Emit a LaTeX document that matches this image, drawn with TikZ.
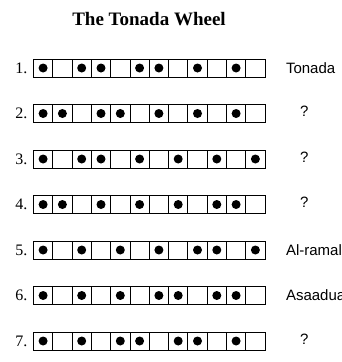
\documentclass[tikz,border=0pt]{standalone}
\usepackage{fontspec}
\setmainfont{Liberation Serif}
\setsansfont{Liberation Sans}
\usetikzlibrary{positioning}

\begin{document}
\begin{tikzpicture}[
  x=1pt, y=-1pt,
  cell/.style={draw, line width=0.9pt, minimum width=19.3pt, minimum height=18pt, inner sep=0pt, anchor=west},
  bead/.style={circle, fill=black, minimum size=9pt, inner sep=0pt},
  num/.style={font=\fontsize{16}{16}\selectfont, anchor=east},
  tag/.style={font=\sffamily\fontsize{15}{15}\selectfont},
  ask/.style={tag, yshift=2pt},
]
\useasboundingbox (0,0) rectangle (342,362);
\node[font=\bfseries\fontsize{19}{19}\selectfont] (title) at (149,19) {The Tonada Wheel};
% --- the seven rhythms, 12 pulses each ---
\foreach \r/\pat in {1/{1,0,1,1,0,1,1,0,1,0,1,0},
                     2/{1,1,0,1,1,0,1,0,1,0,1,0},
                     3/{1,0,1,1,0,1,0,1,0,1,0,1},
                     4/{1,1,0,1,0,1,0,1,0,1,1,0},
                     5/{1,0,1,0,1,0,1,0,1,1,0,1},
                     6/{1,0,1,0,1,0,1,1,0,1,1,0},
                     7/{1,0,1,0,1,1,0,1,1,0,1,0}}{
  \node[num] (n\r) at (31,{68+(\r-1)*45.5}) {\r.};
  \foreach \b [count=\c] in \pat {
    \node[cell] (c\r-\c) at ({33+(\c-1)*19.3},{68+(\r-1)*45.5}) {};
    \ifnum\b=1 \node[bead] (b\r-\c) at (c\r-\c) {}; \fi
  }
}
% --- names ---
\node[tag, right=17pt of c1-12] (t1) {Tonada};
\node[ask, right=31pt of c2-12] (t2) {?};
\node[ask, right=31pt of c3-12] (t3) {?};
\node[ask, right=31pt of c4-12] (t4) {?};
\node[tag, right=17pt of c5-12] (t5) {Al-ramal};
\node[tag, right=17pt of c6-12] (t6) {Asaadua};
\node[ask, right=31pt of c7-12] (t7) {?};
\end{tikzpicture}
\end{document}
